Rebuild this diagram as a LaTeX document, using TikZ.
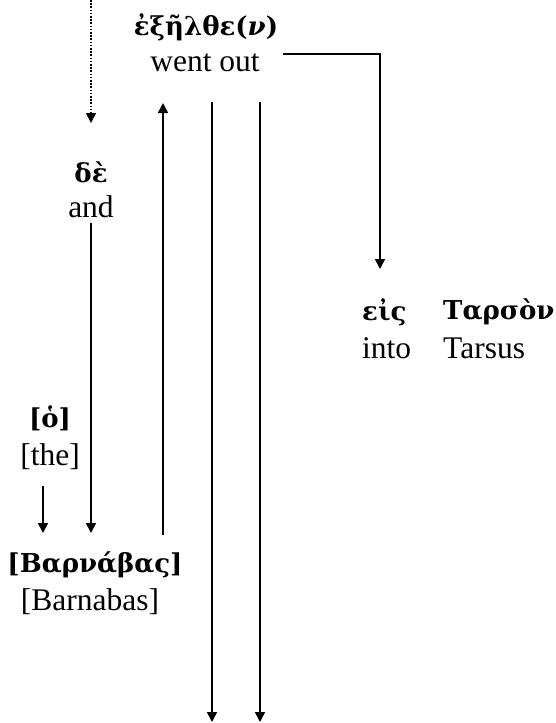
\documentclass[tikz,border=0pt]{standalone}
\usepackage{fontspec}
\setmainfont{Liberation Serif}
\newfontfamily\grk{DejaVu Serif}
\usetikzlibrary{arrows.meta}
\begin{document}
\begin{tikzpicture}[x=1pt,y=-1pt,
  gk/.style={inner sep=0pt,font=\fontsize{26}{30}\selectfont\grk\bfseries},
  en/.style={inner sep=0pt,font=\fontsize{31.5}{36}\selectfont},
  conn/.style={line width=1.6pt,-{Triangle[length=10pt,width=10pt]}},
  dots/.style={dash pattern=on 1.6pt off 1.6pt}]
\useasboundingbox (0,0) rectangle (556,723);
% words
\node[gk] (verbg) at (206,27) {ἐξῆλθε(\textit{ν})};
\node[en] (verbe) at (205,63) {went out};
\node[gk] (deg) at (91,172) {δὲ};
\node[en] (dee) at (91,207) {and};
\node[gk] (hog) at (50,418) {[ὁ]};
\node[en] (hoe) at (50,457) {[the]};
\node[gk] (barg) at (95,565) {[Βαρνάβας]};
\node[en] (bare) at (90,602) {[Barnabas]};
\node[gk,anchor=west] (eisg) at (362,312) {εἰς};
\node[en,anchor=west] (eise) at (362,348) {into};
\node[gk,anchor=west] (targ) at (443,312) {Ταρσὸν};
\node[en,anchor=west] (tare) at (443,348) {Tarsus};
% coordinates
\coordinate (dtop) at (91,0);
\coordinate (dend) at (91,123);
\coordinate (vs) at (283,54);
\coordinate (vc) at (380,54);
\coordinate (ve) at (380,269);
\coordinate (upb) at (163,535);
\coordinate (upt) at (163,103);
\coordinate (l1t) at (212,102);
\coordinate (l1b) at (212,722);
\coordinate (l2t) at (260,102);
\coordinate (l2b) at (260,722);
\coordinate (as) at (91,223);
\coordinate (ae) at (91,533);
\coordinate (ts) at (43,486);
\coordinate (te) at (43,533);
% connectors
\draw[conn,dots] (dtop) -- (dend);
\draw[conn] (vs) -- (vc) -- (ve);
\draw[conn] (upb) -- (upt);
\draw[conn] (l1t) -- (l1b);
\draw[conn] (l2t) -- (l2b);
\draw[conn] (as) -- (ae);
\draw[conn] (ts) -- (te);
\end{tikzpicture}
\end{document}
